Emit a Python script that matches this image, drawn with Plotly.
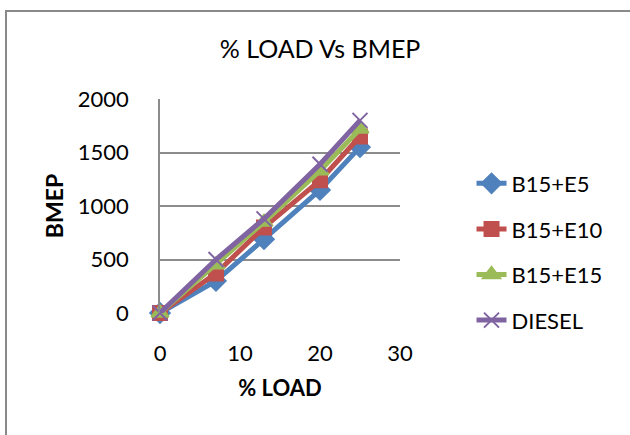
import plotly.graph_objects as go

# % load points and BMEP for each fuel blend
load = [0, 7, 13, 20, 25]
b15_e5 = [0, 300, 690, 1150, 1550]
b15_e10 = [0, 370, 800, 1240, 1650]
b15_e15 = [0, 450, 850, 1330, 1720]
diesel = [0, 500, 880, 1390, 1800]

series = [
    ("B15+E5", b15_e5, "#4F81BD", "diamond", 15),
    ("B15+E10", b15_e10, "#C0504D", "square", 14),
    ("B15+E15", b15_e15, "#9BBB59", "triangle-up", 15),
    ("DIESEL", diesel, "#8064A2", "x-thin-open", 15),
]

FONT = "Lato"

fig = go.Figure()
for name, vals, color, sym, size in series:
    fig.add_trace(go.Scatter(
        x=load, y=vals, name=name, mode="lines+markers",
        line=dict(color=color, width=5),
        marker=dict(symbol=sym, size=size, color=color,
                    line=dict(color=color, width=2)),
        legendgroup=name, cliponaxis=False,
    ))

fig.update_layout(
    width=630, height=435,
    margin=dict(l=160, r=230, t=99, b=122),
    paper_bgcolor="white", plot_bgcolor="white",
    font=dict(family=FONT, size=22, color="black"),
    title=dict(text="% LOAD Vs BMEP", x=0.508, xanchor="center",
               y=1 - 49 / 435, yanchor="middle",
               font=dict(family=FONT, size=25, color="black")),
    showlegend=True,
    legend=dict(x=1.298, xanchor="left", y=0.285, yanchor="middle",
                font=dict(family=FONT, size=22), tracegroupgap=14,
                bgcolor="rgba(0,0,0,0)"),
    shapes=[dict(type="rect", xref="paper", yref="paper",
                 x0=-154 / 240, x1=1 + 260 / 240,
                 y0=-160 / 214, y1=1 + 88 / 214,
                 line=dict(color="#898989", width=2))],
)

fig.update_xaxes(
    range=[0, 30], tickvals=[0, 10, 20, 30], showgrid=False,
    zeroline=False, showline=False,
    ticks="outside", ticklen=21, tickcolor="rgba(0,0,0,0)",
    title=dict(text="<b>% LOAD</b>", font=dict(family=FONT, size=22), standoff=15),
)
fig.update_yaxes(
    range=[0, 2000], tickvals=[0, 500, 1000, 1500, 2000],
    showgrid=True, gridcolor="#8c8c8c", gridwidth=1.5,
    zeroline=False, showline=True, linecolor="#8c8c8c", linewidth=1.5,
    ticks="outside", ticklen=25, tickcolor="rgba(0,0,0,0)",
    title=dict(text="<b>BMEP</b>", font=dict(family=FONT, size=23), standoff=8),
)

fig.write_html("out.html")
